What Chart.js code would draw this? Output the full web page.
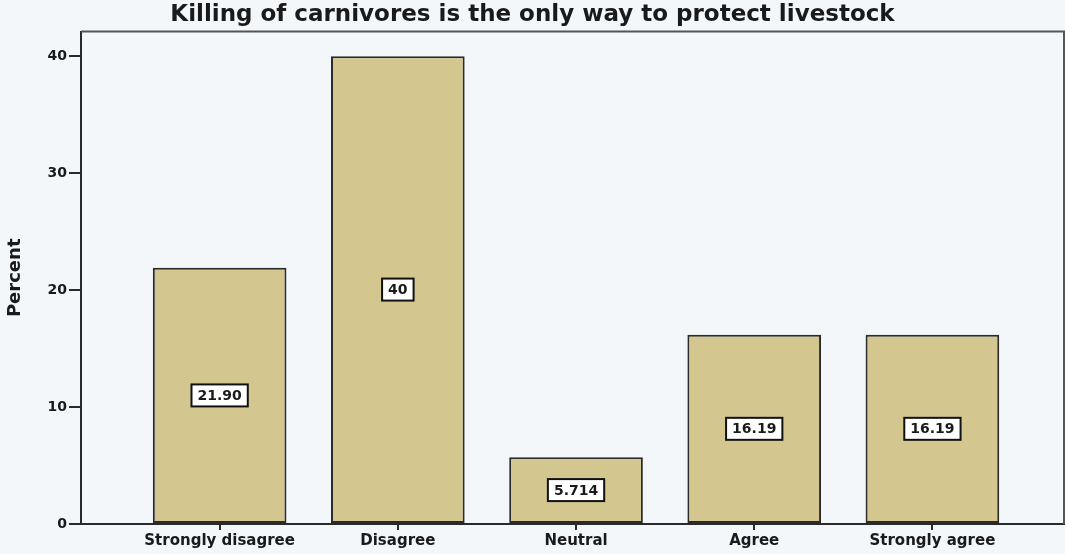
<!DOCTYPE html>
<html>
<head>
<meta charset="utf-8">
<script src="https://cdn.jsdelivr.net/npm/chart.js@4.4.1/dist/chart.umd.min.js"></script>
<style>
  html, body { margin: 0; padding: 0; background: #f3f7fa; }
  #wrap { width: 1065px; height: 554px; }
</style>
</head>
<body>
<div id="wrap"><canvas id="chart"></canvas></div>
<script>
const categories = ["Strongly disagree", "Disagree", "Neutral", "Agree", "Strongly agree"];
const percents = [21.90, 40, 5.714, 16.19, 16.19];
const valueLabels = ["21.90", "40", "5.714", "16.19", "16.19"];
const yTicks = [0, 10, 20, 30, 40];

const barFill = "#d3c78f";
const ink = "#2a2a2a";

// white boxed value in the middle of each bar
const boxLabels = {
  id: "boxLabels",
  afterDatasetsDraw(chart){
    const ctx = chart.ctx;
    const meta = chart.getDatasetMeta(0);
    ctx.save();
    ctx.font = "bold 14px 'DejaVu Sans'";
    ctx.textAlign = "center";
    ctx.textBaseline = "middle";
    meta.data.forEach((bar, i)=>{
      const txt = valueLabels[i];
      const cx = bar.x;
      const cy = (bar.y + bar.base) / 2;
      const w = ctx.measureText(txt).width + 12;
      const h = 22;
      ctx.fillStyle = "#ffffff";
      ctx.fillRect(cx - w/2, cy - h/2, w, h);
      ctx.strokeStyle = "#111";
      ctx.lineWidth = 2;
      ctx.strokeRect(cx - w/2, cy - h/2, w, h);
      ctx.fillStyle = "#1a1a1a";
      ctx.fillText(txt, cx, cy + 1);
    });
    ctx.restore();
  }
};

// frame round the plot area
const frame = {
  id: "frame",
  beforeDatasetsDraw(chart){
    const a = chart.chartArea;
    const ctx = chart.ctx;
    ctx.save();
    ctx.strokeStyle = "#555";
    ctx.lineWidth = 2;
    ctx.beginPath();
    ctx.moveTo(a.left, a.top);
    ctx.lineTo(a.right - 1, a.top);
    ctx.lineTo(a.right - 1, a.bottom);
    ctx.stroke();
    ctx.restore();
  }
};

const ctx = document.getElementById("chart");

new Chart(ctx, {
  type: "bar",
  data: {
    datasets: [{
      label: "Percent",
      data: percents.map((v, i)=>({x: i, y: v})),
      backgroundColor: barFill,
      borderColor: ink,
      borderWidth: 2,
      borderSkipped: false,
      categoryPercentage: 0.75,
      barPercentage: 1
    }]
  },
  options: {
    responsive: true,
    maintainAspectRatio: false,
    animation: false,
    layout: { padding: 0 },
    plugins: {
      legend: { display: false },
      tooltip: { enabled: false },
      title: {
        display: true,
        text: "Killing of carnivores is the only way to protect livestock",
        color: "#1a1a1a",
        font: { family: "'DejaVu Sans'", size: 23, weight: "bold" },
        padding: { top: 1, bottom: 3 }
      }
    },
    scales: {
      x: {
        type: "linear",
        offset: false,
        min: -0.778,
        max: 4.744,
        afterBuildTicks(scale){
          scale.ticks = categories.map((c, i)=>({value: i}));
        },
        afterFit(scale){ scale.height = 30; },
        ticks: {
          callback: (v)=>categories[v],
          color: "#1a1a1a",
          font: { family: "'DejaVu Sans'", size: 15, weight: "bold" },
          padding: 2,
          maxRotation: 0,
          autoSkip: false
        },
        grid: {
          offset: false,
          drawOnChartArea: false,
          drawTicks: true,
          tickLength: 6,
          color: ink,
          lineWidth: 2
        },
        border: { display: true, color: ink, width: 2 }
      },
      y: {
        min: 0,
        max: 42.1,
        afterBuildTicks(scale){
          scale.ticks = yTicks.map(v=>({value: v}));
        },
        afterFit(scale){ scale.width = 81; },
        ticks: {
          color: "#1a1a1a",
          font: { family: "'DejaVu Sans'", size: 14, weight: "bold" },
          padding: 2
        },
        grid: {
          drawOnChartArea: false,
          drawTicks: true,
          tickLength: 12,
          color: ink,
          lineWidth: 2
        },
        border: { display: true, color: ink, width: 2 },
        title: {
          display: true,
          text: "Percent",
          color: "#1a1a1a",
          font: { family: "'DejaVu Sans'", size: 18, weight: "bold" },
          padding: { top: 5, bottom: 0 }
        }
      }
    }
  },
  plugins: [frame, boxLabels]
});
</script>
</body>
</html>
